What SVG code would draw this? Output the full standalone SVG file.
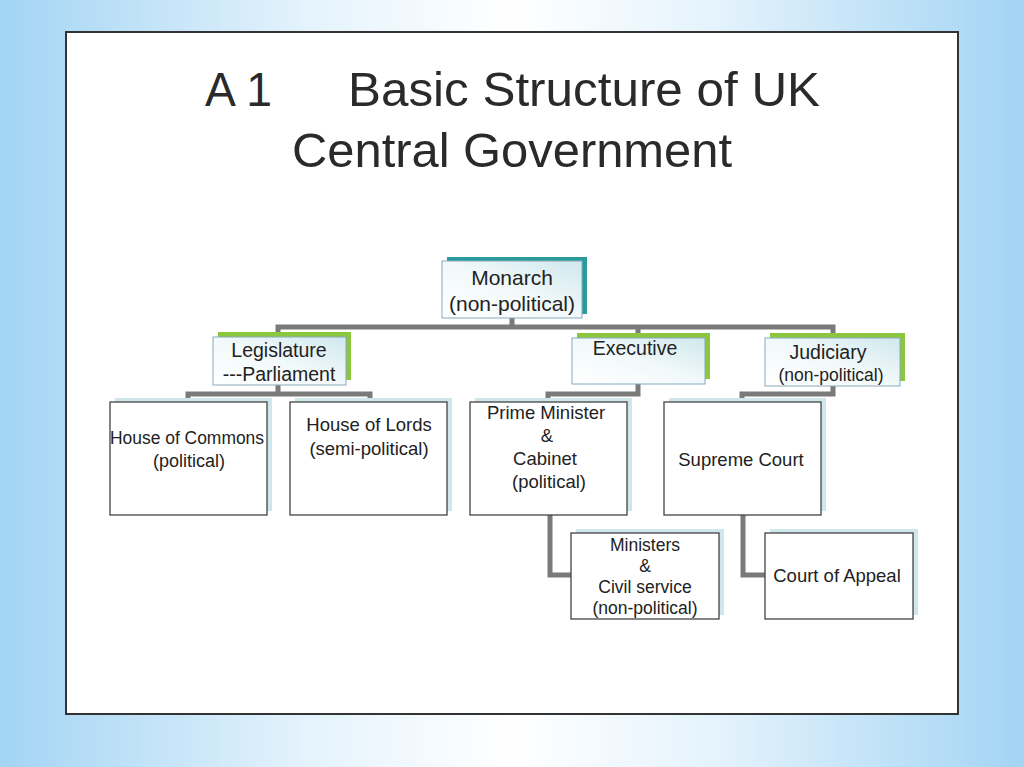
<svg xmlns="http://www.w3.org/2000/svg" width="1024" height="767" viewBox="0 0 1024 767">
<defs>
<linearGradient id="bg" x1="0" y1="0" x2="1" y2="0">
<stop offset="0" stop-color="#a3d4f4"/>
<stop offset="0.3" stop-color="#e4f3fc"/>
<stop offset="0.5" stop-color="#ffffff"/>
<stop offset="0.7" stop-color="#e4f3fc"/>
<stop offset="1" stop-color="#a3d4f4"/>
</linearGradient>
<linearGradient id="boxfill" x1="0" y1="1" x2="1" y2="0">
<stop offset="0" stop-color="#ffffff"/>
<stop offset="0.5" stop-color="#f2f9fa"/>
<stop offset="1" stop-color="#cfe8ee"/>
</linearGradient>
<style>
.t{font-family:"Liberation Sans",Arial,sans-serif;fill:#222;text-anchor:middle}
.title{font-family:"Liberation Sans",Arial,sans-serif;fill:#2a2a2a;font-size:48px}
.box{fill:#fff;stroke:#444;stroke-width:1.3}
.shadow{fill:#cfe7ea}
.cbox{fill:url(#boxfill);stroke:#8ab;stroke-width:1}
.conn{fill:none;stroke:#7a7a7a;stroke-width:5;stroke-linejoin:miter}
</style>
</defs>
<rect x="0" y="0" width="1024" height="767" fill="url(#bg)"/>
<rect x="66" y="32" width="892" height="682" fill="#fff" stroke="#333" stroke-width="2"/>
<g id="title">
<text class="title" x="205" y="106" textLength="67" lengthAdjust="spacingAndGlyphs">A 1</text>
<text class="title" x="348" y="106" textLength="472" lengthAdjust="spacingAndGlyphs">Basic Structure of UK</text>
<text class="title" x="292" y="167" textLength="440" lengthAdjust="spacingAndGlyphs">Central Government</text>
</g>
<g id="connectors">
<path class="conn" d="M512 318 V327 M278 336 V327 H833 V338 M638 327 V338"/>
<path class="conn" d="M278 385 V394 M188 401 V394 H370 V401"/>
<path class="conn" d="M638 384 V394 H548 V401"/>
<path class="conn" d="M833 386 V394 H742 V401"/>
<path class="conn" d="M550 515 V575 H571"/>
<path class="conn" d="M743 515 V575 H765"/>
</g>
<g id="monarch">
<rect x="447" y="257" width="140" height="57" fill="#2a9a9a"/>
<rect class="cbox" x="442" y="261" width="140" height="57" stroke="#4a9a9a"/>
<text class="t" x="512" y="285" font-size="21">Monarch</text>
<text class="t" x="512" y="311" font-size="21">(non-political)</text>
</g>
<g id="legislature">
<rect x="218" y="332" width="133" height="48" fill="#8cc63f"/>
<rect class="cbox" x="213" y="337" width="133" height="48" stroke="#9c6"/>
<text class="t" x="279" y="357" font-size="19.5">Legislature</text>
<text class="t" x="279" y="381" font-size="19.5">---Parliament</text>
</g>
<g id="executive">
<rect x="577" y="333" width="133" height="46" fill="#8cc63f"/>
<rect class="cbox" x="572" y="338" width="133" height="46" stroke="#9c6"/>
<text class="t" x="635" y="355" font-size="19.5">Executive</text>
</g>
<g id="judiciary">
<rect x="770" y="333" width="135" height="48" fill="#8cc63f"/>
<rect class="cbox" x="765" y="338" width="135" height="48" stroke="#9c6"/>
<text class="t" x="828" y="359" font-size="19.5">Judiciary</text>
<text class="t" x="831" y="381" font-size="17.5">(non-political)</text>
</g>
<g id="commons">
<rect class="shadow" x="115" y="398" width="157" height="113"/>
<rect class="box" x="110" y="402" width="157" height="113"/>
<text class="t" x="187" y="444" font-size="17.5" textLength="154" lengthAdjust="spacingAndGlyphs">House of Commons</text>
<text class="t" x="189" y="467" font-size="18">(political)</text>
</g>
<g id="lords">
<rect class="shadow" x="295" y="398" width="157" height="113"/>
<rect class="box" x="290" y="402" width="157" height="113"/>
<text class="t" x="369" y="431" font-size="18.5">House of Lords</text>
<text class="t" x="369" y="455" font-size="18.5">(semi-political)</text>
</g>
<g id="pm">
<rect class="shadow" x="475" y="398" width="157" height="113"/>
<rect class="box" x="470" y="402" width="157" height="113"/>
<text class="t" x="546" y="419" font-size="18.5">Prime Minister</text>
<text class="t" x="547" y="442" font-size="18.5">&amp;</text>
<text class="t" x="545" y="465" font-size="18.5">Cabinet</text>
<text class="t" x="549" y="488" font-size="18.5">(political)</text>
</g>
<g id="supreme">
<rect class="shadow" x="669" y="398" width="157" height="113"/>
<rect class="box" x="664" y="402" width="157" height="113"/>
<text class="t" x="741" y="466" font-size="18.5">Supreme Court</text>
</g>
<g id="ministers">
<rect class="shadow" x="576" y="529" width="148" height="86"/>
<rect class="box" x="571" y="533" width="148" height="86"/>
<text class="t" x="645" y="551" font-size="17.5">Ministers</text>
<text class="t" x="645" y="572" font-size="17.5">&amp;</text>
<text class="t" x="645" y="593" font-size="17.5">Civil service</text>
<text class="t" x="645" y="614" font-size="17.5">(non-political)</text>
</g>
<g id="appeal">
<rect class="shadow" x="770" y="529" width="148" height="86"/>
<rect class="box" x="765" y="533" width="148" height="86"/>
<text class="t" x="837" y="582" font-size="18.5">Court of Appeal</text>
</g>
</svg>
